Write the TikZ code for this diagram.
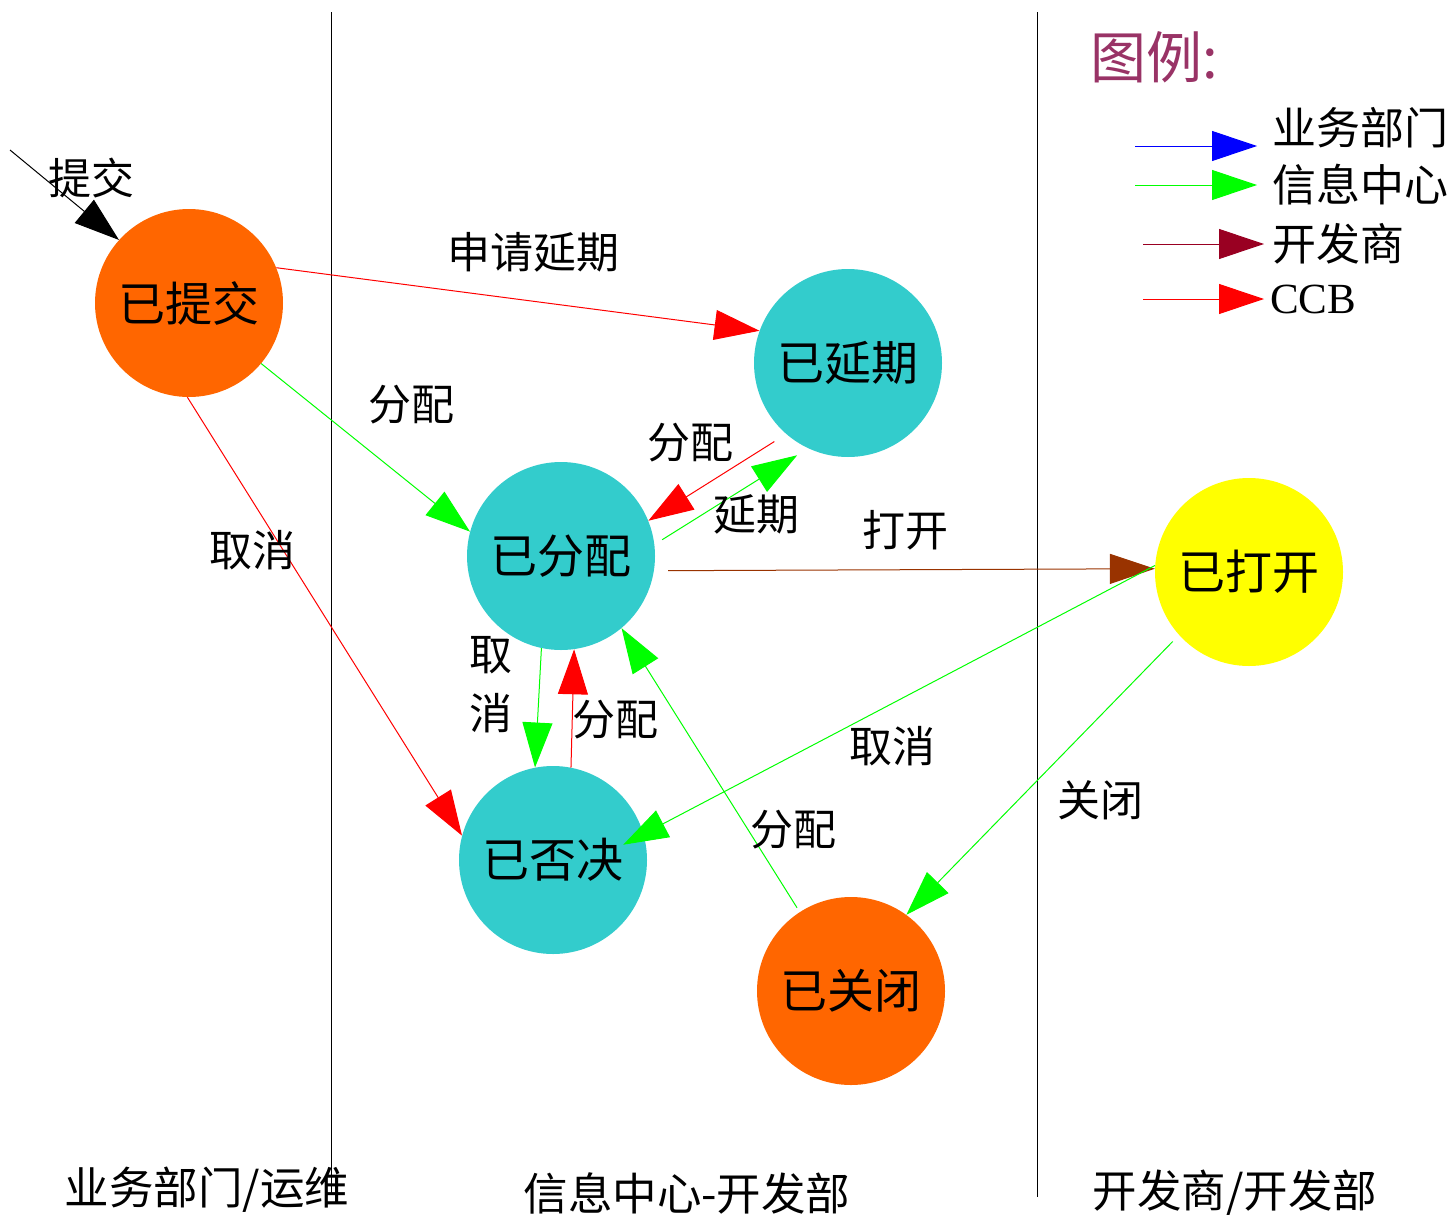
\documentclass[tikz,border=0pt]{standalone}
\usepackage{fontspec}
\setmainfont{Liberation Serif}
\newfontfamily\cjk{Noto Sans CJK SC}
\usetikzlibrary{arrows.meta}

\definecolor{stOrange}{HTML}{FF6600}
\definecolor{stTeal}{HTML}{33CCCC}
\definecolor{stYellow}{HTML}{FFFF00}
\definecolor{arGreen}{HTML}{00FF00}
\definecolor{arRed}{HTML}{FF0000}
\definecolor{arBrown}{HTML}{993300}
\definecolor{arBlue}{HTML}{0000FF}
\definecolor{arDark}{HTML}{990022}
\definecolor{legTitle}{HTML}{993366}

\begin{document}
\begin{tikzpicture}[x=1pt,y=-1pt,
  state/.style={circle,minimum size=188pt,inner sep=0pt,font=\cjk\fontsize{47}{50}\selectfont},
  lbl/.style={inner sep=0pt,font=\cjk\fontsize{43}{59}\selectfont},
  lane/.style={inner sep=0pt,font=\cjk\fontsize{44.5}{48}\selectfont},
  arr/.style={line width=1pt,-{Triangle[length=45pt,width=30pt]}}]
\useasboundingbox (0,0) rectangle (1456,1218);
%泳道分隔线
\draw[line width=0.9pt](331,12)--(331,1195);
\draw[line width=0.9pt](1037,12)--(1037,1197);
\node [lane] (laneA) at (207,1190) {业务部门/运维};
\node [lane] (laneB) at (687,1193) {信息中心-开发部};
\node [lane] (laneC) at (1235,1193) {开发商/开发部};
%状态
\node [state,fill=stOrange] (submitted) at (189,303) {已提交};
\node [state,fill=stTeal] (delayed) at (848,363) {已延期};
\node [state,fill=stTeal] (assigned) at (561,556) {已分配};
\node [state,fill=stTeal] (rejected) at (553,860) {已否决};
\node [state,fill=stOrange] (closed) at (851,991) {已关闭};
\node [state,fill=stYellow] (opened) at (1249,572) {已打开};
%状态转换
\coordinate (start) at (10,150);
\draw [arr,black] (start) -- (submitted.138);
\node [lbl] (lsubmit) at (91,178) {提交};
\draw [arr,arRed] (submitted.22) -- (delayed.160);
\node [lbl] (ldelayreq) at (533,252) {申请延期};
\draw [arr,arGreen] (submitted.-40) -- (assigned.165);
\node [lbl] (lassign1) at (411,405) {分配};
\draw [arr,arRed] (submitted.-91) -- (rejected.165);
\node [lbl] (lcancel1) at (252,550) {取消};
\draw [arr,arRed,shorten <=14pt] (delayed.229) -- (assigned.22);
\node [lbl] (lassign2) at (690,443) {分配};
\draw [arr,arGreen,shorten <=9pt,shorten >=13pt] (assigned.7) -- (delayed.245);
\node [lbl] (ldelay) at (756,514) {延期};
\draw [arr,arBrown,shorten <=14pt] (assigned.-9) -- (opened.178);
\node [lbl] (lopen) at (905,530) {打开};
\draw [arr,arGreen,shorten >=-23pt] (opened.176) -- (rejected.16);
\node [lbl] (lcancel2) at (892,746) {取消};
\draw [arr,arGreen,shorten <=9pt] (opened.222) -- (closed.54);
\node [lbl] (lclose) at (1100,800) {关闭};
\draw [arr,arGreen,shorten <=5pt] (closed.123) -- (assigned.-50);
\node [lbl] (lassign3) at (793,830) {分配};
\draw [arr,arGreen] (assigned.-102) -- (rejected.101);
\node [lbl,align=center] (lcancel3) at (491,685) {取\\消};
\draw [arr,arRed] (rejected.79) -- (assigned.-82);
\node [lbl] (lassign4) at (615,720) {分配};
%图例
\node [lbl,anchor=west,text=legTitle,font=\cjk\fontsize{56}{60}\selectfont] (legend) at (1090,57) {图例:};
\node [lbl,anchor=west,font=\cjk\fontsize{44}{48}\selectfont] (legA) at (1272,128) {业务部门};
\node [lbl,anchor=west,font=\cjk\fontsize{44}{48}\selectfont] (legB) at (1272,185) {信息中心};
\node [lbl,anchor=west,font=\cjk\fontsize{44}{48}\selectfont] (legC) at (1272,244) {开发商};
\node [lbl,anchor=west,font=\fontsize{43}{46}\selectfont] (legD) at (1270,299) {CCB};
\coordinate (keyA) at (1135,146);
\coordinate (keyB) at (1135,185);
\coordinate (keyC) at (1143,244);
\coordinate (keyD) at (1143,299);
\draw [arr,arBlue] (keyA) -- ++(122,0);
\draw [arr,arGreen] (keyB) -- ++(122,0);
\draw [arr,arDark] (keyC) -- ++(121,0);
\draw [arr,arRed] (keyD) -- ++(121,0);
\end{tikzpicture}
\end{document}
